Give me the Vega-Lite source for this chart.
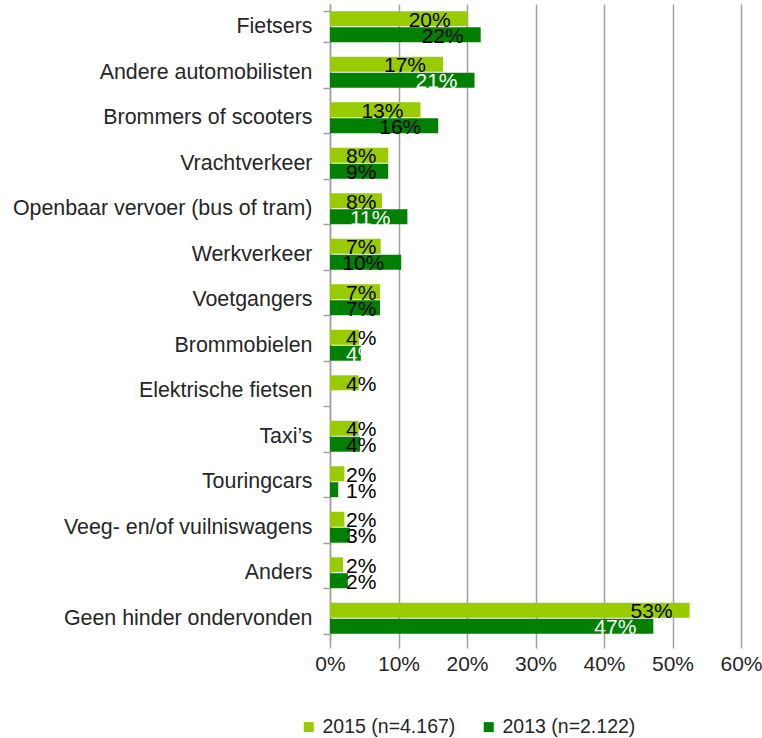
{
  "$schema": "https://vega.github.io/schema/vega-lite/v6.json",
  "width": 411,
  "height": 637,
  "autosize": {"type": "none"},
  "padding": {"left": 330, "top": 4, "right": 21, "bottom": 97},
  "background": "white",
  "config": {
    "view": {"stroke": null},
    "font": "Liberation Sans",
    "text": {"font": "Liberation Sans"}
  },
  "data": {
    "values": [
      {"category": "Fietsers", "series": "2015 (n=4.167)", "value": 0.201, "label": "20%"},
      {"category": "Fietsers", "series": "2013 (n=2.122)", "value": 0.220, "label": "22%"},
      {"category": "Andere automobilisten", "series": "2015 (n=4.167)", "value": 0.165, "label": "17%"},
      {"category": "Andere automobilisten", "series": "2013 (n=2.122)", "value": 0.211, "label": "21%"},
      {"category": "Brommers of scooters", "series": "2015 (n=4.167)", "value": 0.132, "label": "13%"},
      {"category": "Brommers of scooters", "series": "2013 (n=2.122)", "value": 0.158, "label": "16%"},
      {"category": "Vrachtverkeer", "series": "2015 (n=4.167)", "value": 0.085, "label": "8%"},
      {"category": "Vrachtverkeer", "series": "2013 (n=2.122)", "value": 0.085, "label": "9%"},
      {"category": "Openbaar vervoer (bus of tram)", "series": "2015 (n=4.167)", "value": 0.076, "label": "8%"},
      {"category": "Openbaar vervoer (bus of tram)", "series": "2013 (n=2.122)", "value": 0.113, "label": "11%"},
      {"category": "Werkverkeer", "series": "2015 (n=4.167)", "value": 0.074, "label": "7%"},
      {"category": "Werkverkeer", "series": "2013 (n=2.122)", "value": 0.104, "label": "10%"},
      {"category": "Voetgangers", "series": "2015 (n=4.167)", "value": 0.073, "label": "7%"},
      {"category": "Voetgangers", "series": "2013 (n=2.122)", "value": 0.073, "label": "7%"},
      {"category": "Brommobielen", "series": "2015 (n=4.167)", "value": 0.042, "label": "4%"},
      {"category": "Brommobielen", "series": "2013 (n=2.122)", "value": 0.045, "label": "4%"},
      {"category": "Elektrische fietsen", "series": "2015 (n=4.167)", "value": 0.042, "label": "4%"},
      {"category": "Taxi’s", "series": "2015 (n=4.167)", "value": 0.042, "label": "4%"},
      {"category": "Taxi’s", "series": "2013 (n=2.122)", "value": 0.044, "label": "4%"},
      {"category": "Touringcars", "series": "2015 (n=4.167)", "value": 0.021, "label": "2%"},
      {"category": "Touringcars", "series": "2013 (n=2.122)", "value": 0.012, "label": "1%"},
      {"category": "Veeg- en/of vuilniswagens", "series": "2015 (n=4.167)", "value": 0.021, "label": "2%"},
      {"category": "Veeg- en/of vuilniswagens", "series": "2013 (n=2.122)", "value": 0.029, "label": "3%"},
      {"category": "Anders", "series": "2015 (n=4.167)", "value": 0.019, "label": "2%"},
      {"category": "Anders", "series": "2013 (n=2.122)", "value": 0.026, "label": "2%"},
      {"category": "Geen hinder ondervonden", "series": "2015 (n=4.167)", "value": 0.525, "label": "53%"},
      {"category": "Geen hinder ondervonden", "series": "2013 (n=2.122)", "value": 0.472, "label": "47%"}
    ]
  },
  "encoding": {
    "y": {
      "field": "category",
      "type": "nominal",
      "sort": null,
      "title": null,
      "scale": {"paddingInner": 0.32, "paddingOuter": 0.16},
      "axis": {
        "tickBand": "extent",
        "ticks": true,
        "tickSize": 7,
        "tickColor": "#a0a0a0",
        "tickWidth": 1.5,
        "domainColor": "#a0a0a0",
        "domainWidth": 1.5,
        "labelFontSize": 21.4,
        "labelColor": "#262626",
        "labelPadding": 11,
        "labelLimit": 400,
        "grid": false
      }
    },
    "yOffset": {
      "field": "series",
      "type": "nominal",
      "sort": ["2015 (n=4.167)", "2013 (n=2.122)"],
      "scale": {"paddingInner": 0.06}
    }
  },
  "layer": [
    {
      "mark": {"type": "bar"},
      "encoding": {
        "x": {
          "field": "value",
          "type": "quantitative",
          "title": null,
          "scale": {"domain": [0, 0.6], "nice": false},
          "axis": {
            "format": ".0%",
            "values": [0, 0.1, 0.2, 0.3, 0.4, 0.5, 0.6],
            "grid": true,
            "gridColor": "#a0a0a0",
            "gridWidth": 1.5,
            "domain": false,
            "ticks": true,
            "tickSize": 7,
            "tickColor": "#a0a0a0",
            "tickWidth": 1.5,
            "labelFlush": false,
            "labelOverlap": false,
            "labelFontSize": 21,
            "labelColor": "#262626",
            "labelPadding": 5
          }
        },
        "color": {
          "field": "series",
          "type": "nominal",
          "title": null,
          "sort": ["2015 (n=4.167)", "2013 (n=2.122)"],
          "scale": {"domain": ["2015 (n=4.167)", "2013 (n=2.122)"], "range": ["#99cc00", "#008000"]},
          "legend": {
            "orient": "none",
            "legendX": -31,
            "legendY": 713,
            "direction": "horizontal",
            "columns": 2,
            "columnPadding": 23,
            "symbolType": "square",
            "symbolSize": 100,
            "symbolStrokeWidth": 0,
            "labelFontSize": 19.5,
            "labelColor": "#262626",
            "labelOffset": 4
          }
        }
      }
    },
    {
      "transform": [{"filter": "datum.value >= 0.1"}],
      "mark": {"type": "text", "align": "right", "baseline": "middle", "dx": -17, "dy": 2, "fontSize": 21},
      "encoding": {
        "x": {"field": "value", "type": "quantitative"},
        "text": {"field": "label"},
        "color": {
          "condition": {"test": "datum.series == '2013 (n=2.122)' && indexof(['Andere automobilisten', 'Openbaar vervoer (bus of tram)', 'Geen hinder ondervonden', 'Brommobielen'], datum.category) >= 0", "value": "#ffffff"},
          "value": "#000000"
        }
      }
    },
    {
      "transform": [{"filter": "datum.value < 0.1"}],
      "mark": {"type": "text", "align": "left", "baseline": "middle", "dx": 16, "dy": 2, "fontSize": 21},
      "encoding": {
        "x": {"datum": 0, "type": "quantitative"},
        "text": {"field": "label"},
        "color": {
          "condition": {"test": "datum.series == '2013 (n=2.122)' && indexof(['Andere automobilisten', 'Openbaar vervoer (bus of tram)', 'Geen hinder ondervonden', 'Brommobielen'], datum.category) >= 0", "value": "#ffffff"},
          "value": "#000000"
        }
      }
    }
  ]
}
